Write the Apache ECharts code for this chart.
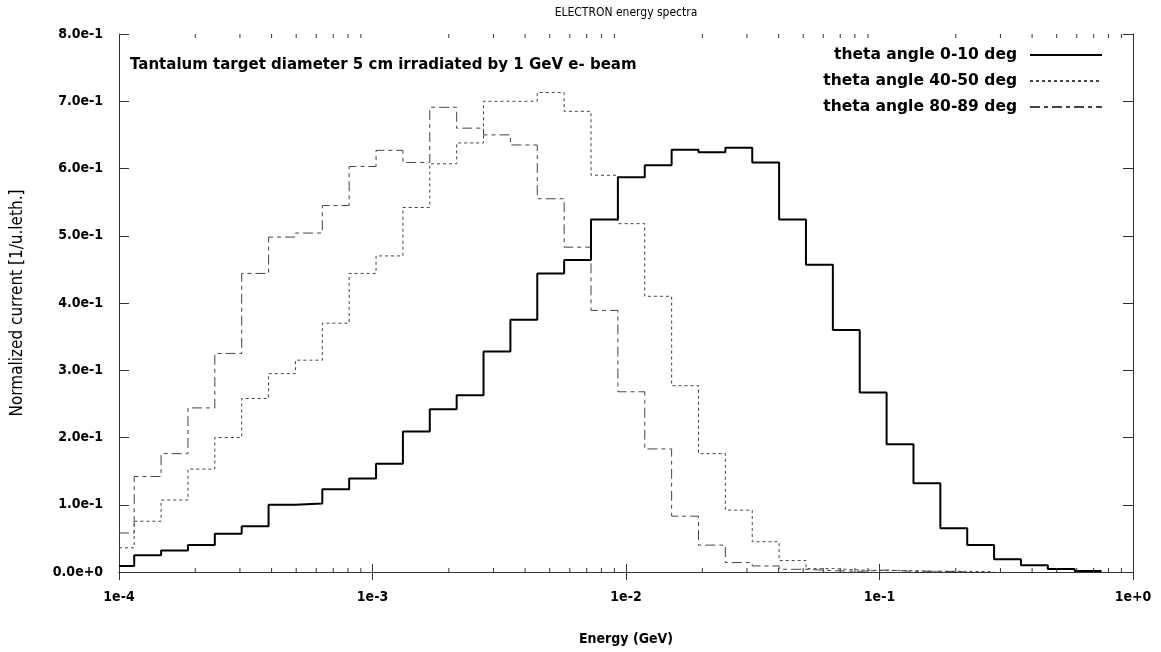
<!DOCTYPE html>
<html>
<head>
<meta charset="utf-8">
<script src="https://cdn.jsdelivr.net/npm/echarts@6/dist/echarts.min.js"></script>
<style>html,body{margin:0;padding:0;background:#fff}#c{width:1161px;height:652px}</style>
</head>
<body>
<div id="c"></div>
<script>
// Bin edges (log10 of energy in GeV); the first edge is the axis start
const binEdgesLog10 = [-4.000, -3.940, -3.834, -3.728, -3.622, -3.516, -3.410, -3.304, -3.198, -3.092,
  -2.986, -2.880, -2.774, -2.668, -2.562, -2.456, -2.350, -2.244, -2.138, -2.032,
  -1.926, -1.820, -1.714, -1.608, -1.502, -1.396, -1.290, -1.184, -1.078, -0.972,
  -0.866, -0.760, -0.654, -0.548, -0.442, -0.336, -0.230, -0.124, -0.018];

const theta0_10 = [0.009, 0.025, 0.032, 0.040, 0.057, 0.068, 0.100, 0.102, 0.123, 0.139,
  0.161, 0.209, 0.242, 0.263, 0.328, 0.375, 0.444, 0.464, 0.524, 0.587,
  0.605, 0.628, 0.624, 0.631, 0.609, 0.524, 0.457, 0.360, 0.267, 0.190,
  0.132, 0.065, 0.040, 0.019, 0.010, 0.0045, 0.0015];

const theta40_50 = [0.036, 0.0755, 0.107, 0.153, 0.200, 0.258, 0.295, 0.315, 0.370, 0.444,
  0.470, 0.542, 0.607, 0.638, 0.700, 0.700, 0.713, 0.685, 0.590, 0.518,
  0.410, 0.277, 0.176, 0.092, 0.045, 0.017, 0.005, 0.003, 0.002, 0.002,
  0.001, 0.001, 0.0005];

const theta80_89 = [0.058, 0.142, 0.176, 0.244, 0.325, 0.444, 0.498, 0.504, 0.545, 0.603,
  0.627, 0.609, 0.691, 0.660, 0.650, 0.635, 0.555, 0.483, 0.389, 0.268,
  0.183, 0.083, 0.040, 0.014, 0.009, 0.004, 0.002, 0.001, 0.003, 0.001,
  0.001, 0.0005];

const seriesNames = ['theta angle 0-10 deg', 'theta angle 40-50 deg', 'theta angle 80-89 deg'];
const xMajorTicks = [1e-4, 1e-3, 1e-2, 1e-1, 1e0];
const xTickLabels = ['1e-4', '1e-3', '1e-2', '1e-1', '1e+0'];
const xMinorTicks = [2e-4,3e-4,4e-4,5e-4,6e-4,7e-4,8e-4,9e-4,
  2e-3,3e-3,4e-3,5e-3,6e-3,7e-3,8e-3,9e-3,
  2e-2,3e-2,4e-2,5e-2,6e-2,7e-2,8e-2,9e-2,
  2e-1,3e-1,4e-1,5e-1,6e-1,7e-1,8e-1,9e-1];
const yTickLabels = ['0.0e+0','1.0e-1','2.0e-1','3.0e-1','4.0e-1','5.0e-1','6.0e-1','7.0e-1','8.0e-1'];

function stepPoints(vals) {
  const pts = [];
  vals.forEach(function (v, j) {
    pts.push([Math.pow(10, binEdgesLog10[j]), v]);
    pts.push([Math.pow(10, binEdgesLog10[j + 1]), v]);
  });
  return pts;
}

const narrow = '"DejaVu Sans Condensed", "Liberation Sans Narrow", "Liberation Sans", sans-serif';
const wide = '"DejaVu Sans", "Liberation Sans", sans-serif';
const frame = '#333';

function xLabel(v) {
  const e = Math.round(Math.log10(v));
  const i = xMajorTicks.findIndex(function (t) { return Math.abs(Math.log10(t) - e) < 1e-6; });
  return i >= 0 ? xTickLabels[i] : '';
}
function yLabel(v) {
  const i = Math.round(v * 10);
  return yTickLabels[i] !== undefined ? yTickLabels[i] : '';
}

const chart = echarts.init(document.getElementById('c'), null, {renderer: 'canvas'});
const axisCommonX = {
  type: 'log', logBase: 10, min: 1e-4, max: 1,
  axisLine: {show: true, lineStyle: {color: frame, width: 1}},
  axisTick: {show: true, inside: true, length: 8, lineStyle: {color: frame}},
  splitLine: {show: false}, minorTick: {show: false}
};
const axisCommonY = {
  type: 'value', min: 0, max: 0.8, interval: 0.1,
  axisLine: {show: true, lineStyle: {color: frame, width: 1}},
  axisTick: {show: true, inside: true, length: 10, lineStyle: {color: frame}},
  splitLine: {show: false}
};

chart.setOption({
  animation: false,
  backgroundColor: '#fff',
  title: [
    {text: 'Tantalum target diameter 5 cm irradiated by 1 GeV e- beam', left: 125, top: 53,
     textStyle: {fontFamily: wide, fontSize: 15, fontWeight: 'bold', color: '#000'}}
  ],
  legend: {
    data: seriesNames, orient: 'vertical', align: 'right', right: 53, top: 42,
    itemWidth: 72, itemHeight: 12, itemGap: 10,
    itemStyle: {opacity: 0, borderWidth: 0},
    textStyle: {fontFamily: wide, fontSize: 15.5, fontWeight: 'bold', color: '#000', padding: [0, 8, 0, 0]}
  },
  grid: {left: 119, right: 28, top: 34, bottom: 80, containLabel: false},
  xAxis: [
    Object.assign({}, axisCommonX, {
      position: 'bottom',
      axisLabel: {show: true, margin: 18, formatter: xLabel,
        fontFamily: narrow, fontSize: 14, fontWeight: 'bold', color: '#000'},
      name: 'Energy (GeV)', nameLocation: 'middle', nameGap: 60,
      nameTextStyle: {fontFamily: narrow, fontSize: 14, fontWeight: 'bold', color: '#000'}
    }),
    Object.assign({}, axisCommonX, {
      position: 'top', axisLabel: {show: false},
      name: 'ELECTRON energy spectra', nameLocation: 'middle', nameGap: 15,
      nameTextStyle: {fontFamily: narrow, fontSize: 12, fontWeight: 'normal', color: '#000'}
    })
  ],
  yAxis: [
    Object.assign({}, axisCommonY, {
      position: 'left',
      axisLabel: {show: true, margin: 16, formatter: yLabel,
        fontFamily: narrow, fontSize: 14, fontWeight: 'bold', color: '#000'},
      name: 'Normalized current [1/u.leth.]', nameLocation: 'middle', nameGap: 93, nameRotate: 90,
      nameTextStyle: {fontFamily: narrow, fontSize: 17, color: '#000'}
    }),
    Object.assign({}, axisCommonY, {position: 'right', axisLabel: {show: false}})
  ],
  series: [
    {name: seriesNames[0], type: 'line', data: stepPoints(theta0_10), symbol: 'none', showSymbol: false,
     lineStyle: {color: '#000', width: 2, type: 'solid'}, itemStyle: {color: '#000'}, z: 5},
    {name: seriesNames[1], type: 'line', data: stepPoints(theta40_50), symbol: 'none', showSymbol: false,
     lineStyle: {color: '#444', width: 1, type: [3, 3]}, itemStyle: {color: '#444'}, z: 4},
    {name: seriesNames[2], type: 'line', data: stepPoints(theta80_89), symbol: 'none', showSymbol: false,
     lineStyle: {color: '#444', width: 1, type: [10, 4, 4, 4]}, itemStyle: {color: '#444'}, z: 3},
    {name: 'minorTicks', type: 'custom', data: xMinorTicks.map(function (v) { return [v, 0]; }),
     encode: {x: 0, y: 1}, silent: true, z: 6,
     renderItem: function (params, api) {
       const x = api.value(0);
       const b = api.coord([x, 0]);
       const t = api.coord([x, 0.8]);
       return {type: 'group', children: [
         {type: 'line', shape: {x1: b[0], y1: b[1], x2: b[0], y2: b[1] - 4}, style: {stroke: frame, lineWidth: 1}},
         {type: 'line', shape: {x1: t[0], y1: t[1], x2: t[0], y2: t[1] + 4}, style: {stroke: frame, lineWidth: 1}}
       ]};
     }}
  ]
});
</script>
</body>
</html>
